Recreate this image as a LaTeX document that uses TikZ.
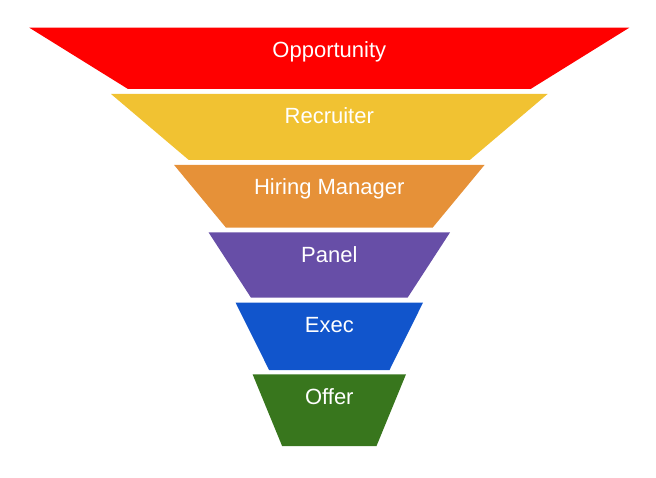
\documentclass[tikz,border=0pt]{standalone}
\usepackage{fontspec}
\setmainfont{Liberation Sans}
\definecolor{stagered}{HTML}{FF0000}
\definecolor{stageyellow}{HTML}{F1C232}
\definecolor{stageorange}{HTML}{E69138}
\definecolor{stagepurple}{HTML}{674EA7}
\definecolor{stageblue}{HTML}{1155CC}
\definecolor{stagegreen}{HTML}{38761D}
\begin{document}
\begin{tikzpicture}[
		x=1pt, y=-1pt,
		declare function = {
				cx = 329.3;
			},
		stagetext/.style = {anchor=base, text=white, inner sep=0pt, font=\fontsize{22}{26}\selectfont},
	]
	\path[use as bounding box] (0,0) rectangle (656,478);
	\foreach \top/\bot/\wtop/\wbot/\col/\name/\txt in {
			27.7/89/300/201.3/stagered/opportunity/Opportunity,
			94/160/218.3/140.5/stageyellow/recruiter/Recruiter,
			165/227.7/155.2/103.3/stageorange/manager/Hiring Manager,
			232.3/297.7/120.8/78.3/stagepurple/panel/Panel,
			302.7/370/93.7/60.2/stageblue/exec/Exec,
			374.3/446/76.7/47.2/stagegreen/offer/Offer}
		{
			\fill[\col] (cx-\wtop,\top) -- (cx+\wtop,\top) -- (cx+\wbot,\bot) -- (cx-\wbot,\bot) -- cycle;
			\node[stagetext] (\name) at (cx,\top+30) {\txt};
		}
\end{tikzpicture}
\end{document}
